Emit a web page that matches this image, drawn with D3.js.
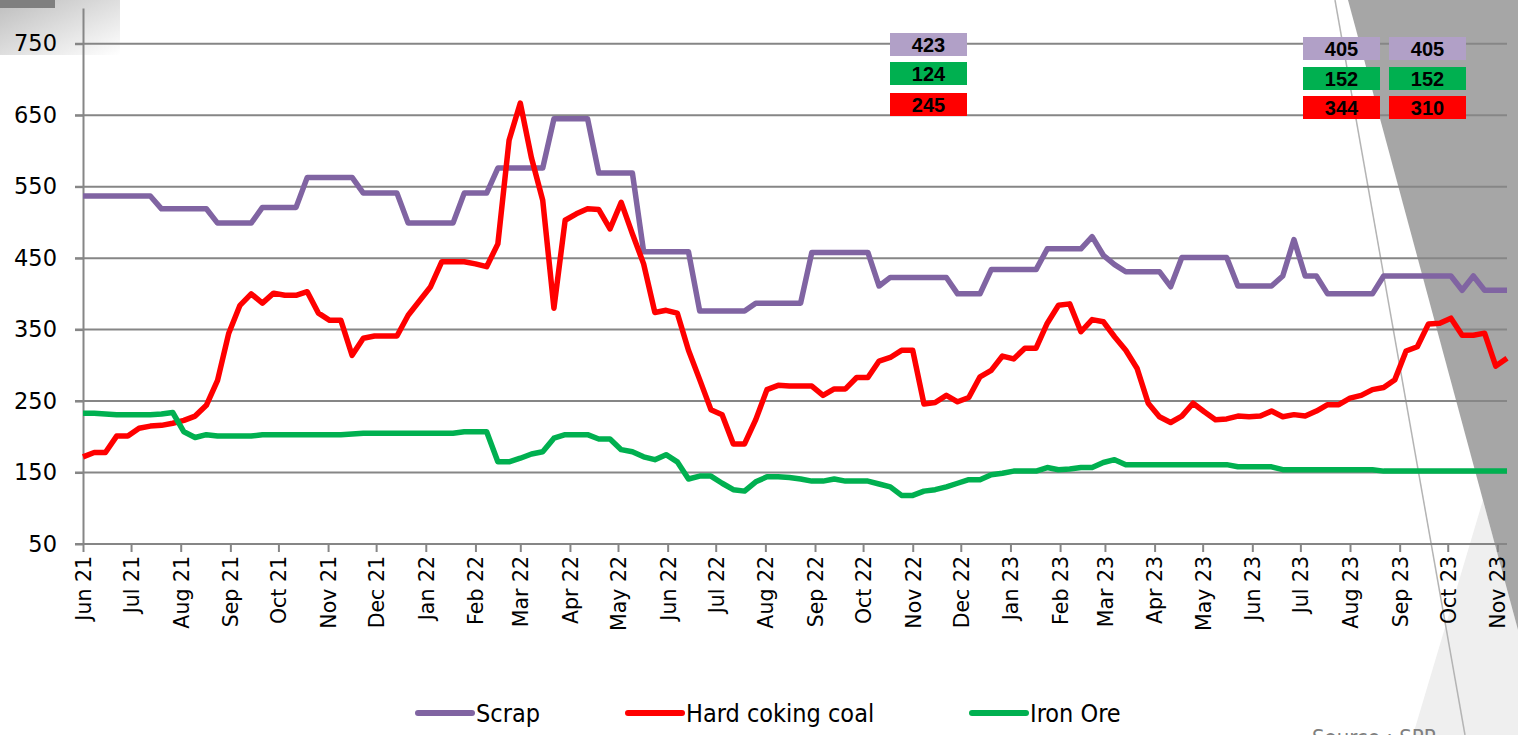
<!DOCTYPE html>
<html>
<head>
    <meta charset="utf-8">
    <title>Scrap, coking coal and iron ore prices</title>
    <style>
        body{ margin: 0; background: #fff; }
        svg{ display: block; }
        .grid line{ stroke: #868686; stroke-width: 2px; }
        .axis path, .axis line{ stroke: #868686; stroke-width: 2px; }
        .axis text{ fill: #000; font-family: "DejaVu Sans", sans-serif; }
        .series{ fill: none; stroke-width: 5.5px; stroke-linejoin: round; }
        .legend text{ font-family: "DejaVu Sans Condensed", "DejaVu Sans", sans-serif; font-size: 25px; fill: #000; }
        .tag text{ font-family: "Liberation Sans", Arial, sans-serif; font-weight: bold; font-size: 20px; fill: #000; }
    </style>
    <script src="https://cdn.jsdelivr.net/npm/d3@7"></script>
</head>
<body>
<svg width="1518" height="735"></svg>
<script>
// weekly series, first week 1 Jun 2021
const firstWeek = "2021-06-01";

const scrap = [
    537,537,537,537,537,537,537,519,519,519, 519,519,499,499,499,499,521,521,521,521,
    563,563,563,563,563,541,541,541,541,499, 499,499,499,499,541,541,541,576,576,576,
    576,576,645,645,645,645,569,569,569,569, 459,459,459,459,459,376,376,376,376,376,
    387,387,387,387,387,458,458,458,458,458, 458,411,423,423,423,423,423,423,400,400,
    400,434,434,434,434,434,463,463,463,463, 480,454,441,431,431,431,431,410,451,451,
    451,451,451,411,411,411,411,425,476,425, 425,400,400,400,400,400,425,425,425,425,
    425,425,425,405,425,405,405,405
];
const coal = [
    172,178,178,201,201,212,215,216,219,223, 229,244,279,345,384,400,387,401,398,398,
    403,373,363,363,314,338,341,341,341,370, 390,410,445,445,445,442,438,470,615,667,
    590,531,380,503,512,519,518,491,528,484, 442,374,377,373,321,280,238,231,190,190,
    224,266,272,271,271,271,258,267,267,283, 283,306,311,321,321,246,248,258,249,255,
    284,293,313,309,324,324,359,384,386,347, 364,361,340,321,296,247,228,220,229,247,
    235,224,225,229,228,229,236,228,231,229, 236,245,245,254,258,266,269,280,320,326,
    358,359,366,342,342,345,299,310
];
const ore = [
    233,233,232,231,231,231,231,232,234,207, 199,203,201,201,201,201,203,203,203,203,
    203,203,203,203,204,205,205,205,205,205, 205,205,205,205,207,207,207,165,165,170,
    176,179,198,203,203,203,197,197,182,179, 172,168,175,165,141,145,145,135,126,124,
    137,144,144,143,141,138,138,141,138,138, 138,134,130,118,118,124,126,130,135,140,
    140,147,149,152,152,152,157,154,155,157, 157,164,168,161,161,161,161,161,161,161,
    161,161,161,158,158,158,158,154,154,154, 154,154,154,154,154,154,152,152,152,152,
    152,152,152,152,152,152,152,152
];

const seriesNames = ["Scrap", "Hard coking coal", "Iron Ore"];
const seriesColors = ["#8064A2", "#FF0000", "#00B050"];

// value call-outs shown above the plot (scrap, iron ore, coking coal)
const calloutScrap = [423, 405, 405];
const calloutOre = [124, 152, 152];
const calloutCoal = [245, 344, 310];

const yTicks = [50, 150, 250, 350, 450, 550, 650, 750];

const svg = d3.select("svg");
const plotLeft = 83, plotRight = 1507, plotTop = 8, plotBottom = 544;

const start = d3.utcParse("%Y-%m-%d")(firstWeek);
const weeks = d3.range(scrap.length).map(i => d3.utcDay.offset(start, 7 * i));

// slide background decorations
const deco = svg.append("g");
const grad = svg.append("defs").append("linearGradient").attr("id", "fade")
    .attr("x1", 0).attr("x2", 1).attr("y1", 0).attr("y2", 1);
grad.append("stop").attr("offset", "0%").attr("stop-color", "#bdbdbd");
grad.append("stop").attr("offset", "100%").attr("stop-color", "#ffffff");
deco.append("rect").attr("x", 0).attr("y", 0).attr("width", 120).attr("height", 55).attr("fill", "url(#fade)");
deco.append("rect").attr("x", 0).attr("y", 0).attr("width", 55).attr("height", 8).attr("fill", "#7f7f7f");
deco.append("polygon").attr("points", "1483,500 1518,630 1518,735 1413,735").attr("fill", "#efefef");
deco.append("polygon").attr("points", "1348,0 1518,0 1518,630").attr("fill", "#a6a6a6");
deco.append("line").attr("x1", 1335).attr("y1", 0).attr("x2", 1465).attr("y2", 735)
    .attr("stroke", "#b4b4b4").attr("stroke-width", 1.5);
deco.append("text").attr("x", 1312).attr("y", 745).attr("fill", "#7f7f7f")
    .style("font-family", "DejaVu Sans Condensed, sans-serif").style("font-size", "22px")
    .text("Source : SPP");

const x = d3.scaleUtc().domain([weeks[0], weeks[weeks.length - 1]]).range([plotLeft, plotRight]);
const y = d3.scaleLinear().domain([50, 800]).range([plotBottom, plotTop]);

// horizontal gridlines
svg.append("g").attr("class", "grid")
    .selectAll("line").data(yTicks).join("line")
    .attr("x1", plotLeft - 8).attr("x2", plotRight)
    .attr("y1", d => y(d)).attr("y2", d => y(d));

// y axis
const yAxis = svg.append("g").attr("class", "axis")
    .attr("transform", `translate(${plotLeft},0)`)
    .call(d3.axisLeft(y).tickValues(yTicks).tickSize(8).tickSizeOuter(0).tickPadding(18));
yAxis.selectAll("text").style("font-size", "22.5px");

// x axis, month ticks
const months = d3.utcMonth.range(d3.utcMonth.ceil(weeks[0]), weeks[weeks.length - 1]);
const xAxis = svg.append("g").attr("class", "axis")
    .attr("transform", `translate(0,${plotBottom})`)
    .call(d3.axisBottom(x).tickValues(months).tickFormat(d3.utcFormat("%b %y")).tickSize(8).tickSizeOuter(0));
xAxis.select(".domain").remove();
xAxis.selectAll("text")
    .style("font-size", "20.5px")
    .attr("text-anchor", "end")
    .attr("transform", "rotate(-90)")
    .attr("x", -12).attr("y", 0).attr("dy", "0.36em");

// lines
const line = d3.line().x((d, i) => x(weeks[i])).y(d => y(d));
[scrap, coal, ore].forEach((s, k) => {
    svg.append("path").attr("class", "series")
        .attr("stroke", seriesColors[k])
        .attr("d", line(s));
});

// call-out boxes
const boxX = [890, 1303, 1389];
const tagRows = [
    {vals: calloutScrap, fill: "#B1A0C7", y: [33, 37, 37]},
    {vals: calloutOre, fill: "#00B050", y: [62, 67, 67]},
    {vals: calloutCoal, fill: "#FF0000", y: [93, 96, 96]}
];
tagRows.forEach(row => {
    const g = svg.append("g").attr("class", "tag");
    row.vals.forEach((v, i) => {
        g.append("rect").attr("x", boxX[i]).attr("y", row.y[i])
            .attr("width", 77).attr("height", 23).attr("fill", row.fill);
        g.append("text").attr("x", boxX[i] + 38.5).attr("y", row.y[i] + 19)
            .attr("text-anchor", "middle").text(v);
    });
});

// legend
const legX = [418, 628, 972];
const legend = svg.append("g").attr("class", "legend");
seriesNames.forEach((n, i) => {
    legend.append("line").attr("x1", legX[i]).attr("x2", legX[i] + 54)
        .attr("y1", 713).attr("y2", 713)
        .attr("stroke", seriesColors[i]).attr("stroke-width", 6).attr("stroke-linecap", "round");
    legend.append("text").attr("x", legX[i] + 58).attr("y", 722).text(n);
});
</script>
</body>
</html>
